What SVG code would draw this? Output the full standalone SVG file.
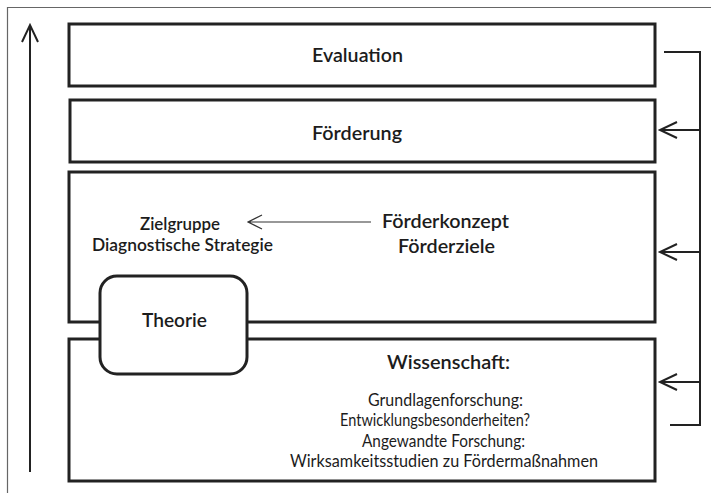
<svg xmlns="http://www.w3.org/2000/svg" width="711" height="493" viewBox="0 0 711 493">
<style>
.box{fill:#fff;stroke:#222;stroke-width:3}
.ln{fill:none;stroke:#222;stroke-width:2;stroke-linecap:butt}
.thin{fill:none;stroke:#333;stroke-width:1.2}
.h{font-family:Lato,"Open Sans","Liberation Sans",sans-serif;font-weight:600;fill:#1c1c1c}
.t{font-family:Lato,"Open Sans","Liberation Sans",sans-serif;font-weight:400;fill:#1c1c1c;font-size:18px}
</style>
<rect width="711" height="493" fill="#fff"/>
<path d="M7.5,493 V7.5 H711" fill="none" stroke="#666" stroke-width="1.2"/>
<g id="evaluation">
<rect class="box" x="69" y="24" width="586" height="62"/>
<text class="h" x="312" y="62" font-size="19.5" textLength="91" lengthAdjust="spacingAndGlyphs">Evaluation</text>
</g>
<g id="foerderung">
<rect class="box" x="70" y="100" width="585" height="62"/>
<text class="h" x="312" y="140" font-size="19.5" textLength="90" lengthAdjust="spacingAndGlyphs">Förderung</text>
</g>
<g id="foerderkonzept">
<rect class="box" x="69" y="172" width="586" height="150"/>
<text class="h" x="382" y="228" font-size="20" textLength="127" lengthAdjust="spacingAndGlyphs">Förderkonzept</text>
<text class="h" x="398" y="253" font-size="20" textLength="97" lengthAdjust="spacingAndGlyphs">Förderziele</text>
</g>
<g id="zielgruppe">
<text class="h" x="140" y="230" font-size="16.5" textLength="80" lengthAdjust="spacingAndGlyphs">Zielgruppe</text>
<text class="h" x="92" y="251" font-size="16.5" textLength="181" lengthAdjust="spacingAndGlyphs">Diagnostische Strategie</text>
</g>
<g id="wissenschaft">
<rect class="box" x="69" y="339" width="586" height="142"/>
<text class="h" x="387" y="369" font-size="19.5" textLength="123" lengthAdjust="spacingAndGlyphs">Wissenschaft:</text>
<text class="t" x="368" y="406" textLength="155" lengthAdjust="spacingAndGlyphs">Grundlagenforschung:</text>
<text class="t" x="340" y="426" textLength="190" lengthAdjust="spacingAndGlyphs">Entwicklungsbesonderheiten?</text>
<text class="t" x="362" y="447" textLength="163" lengthAdjust="spacingAndGlyphs">Angewandte Forschung:</text>
<text class="t" x="290" y="467" textLength="308" lengthAdjust="spacingAndGlyphs">Wirksamkeitsstudien zu Fördermaßnahmen</text>
</g>
<g id="theorie">
<rect class="box" x="100" y="276" width="147" height="98" rx="17"/>
<text class="h" x="142" y="327" font-size="20" textLength="65" lengthAdjust="spacingAndGlyphs">Theorie</text>
</g>
<g id="connectors">
<path class="ln" d="M30,472 V25 M22,42 L30,25 L38,42"/>
<path class="ln" d="M664,52 H700 V425 H670"/>
<path class="ln" d="M700,130 H660 M677,122 L660,130 L677,138"/>
<path class="ln" d="M700,252 H660 M677,244 L660,252 L677,260"/>
<path class="ln" d="M700,382 H660 M677,374 L660,382 L677,390"/>
<path class="thin" d="M371,222 H248 M262,215 L248,222 L262,229"/>
</g>
</svg>
